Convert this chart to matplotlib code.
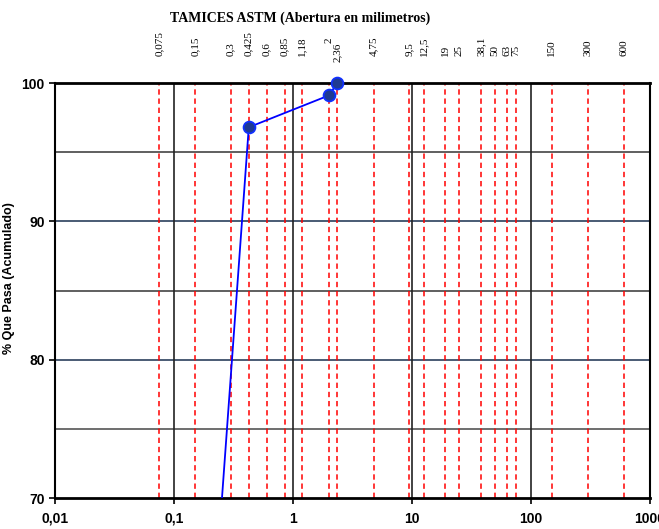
import matplotlib
matplotlib.use("Agg")
import matplotlib.pyplot as plt
import matplotlib.transforms as mtransforms
from matplotlib import font_manager

# Sieve openings (mm) and their printed labels
sieve_sizes = [0.075, 0.15, 0.3, 0.425, 0.6, 0.85, 1.18, 2, 2.36, 4.75, 9.5,
               12.5, 19, 25, 38.1, 50, 63, 75, 150, 300, 600]
sieve_labels = ["0,075", "0,15", "0,3", "0,425", "0,6", "0,85", "1,18", "2",
                "2,36", "4,75", "9,5", "12,5", "19", "25", "38,1", "50", "63",
                "75", "150", "300", "600"]

# Grading curve: opening (mm) vs cumulative percent passing
curve_size = [0.15, 0.425, 2, 2.36]
curve_pass = [43.0, 96.8, 99.1, 100.0]

x_ticks = [0.01, 0.1, 1, 10, 100, 1000]
x_tick_labels = ["0,01", "0,1", "1", "10", "100", "1000"]
y_ticks = [70, 80, 90, 100]

available = {f.name for f in font_manager.fontManager.ttflist}
sans = "Liberation Sans Narrow" if "Liberation Sans Narrow" in available else "Liberation Sans"

fig = plt.figure(figsize=(6.59, 5.29), dpi=100)
ax = fig.add_axes([0.0835, 0.0586, 0.9028, 0.7845])
ax.set_xscale("log")
ax.set_xlim(0.01, 1000)
ax.set_ylim(70, 100)

# Horizontal reference lines
for yv, col in [(75, "#555555"), (80, "#2b3f5c"), (85, "#444444"),
                (90, "#2b3f5c"), (95, "#444444")]:
    ax.axhline(yv, color=col, lw=1.2, zorder=1)

# Decade lines
for xv in [0.1, 1, 10, 100]:
    ax.axvline(xv, color="#222222", lw=1.2, zorder=1)

# Sieve lines
for s in sieve_sizes:
    ax.axvline(s, color="#ff0000", lw=1.1, ls=(0, (3.5, 2.5)), zorder=2)

# Grading curve: the line is clipped to the plot, the markers are not
ax.plot(curve_size, curve_pass, color="#0000ff", lw=1.3, zorder=4)
visible = [(s, p) for s, p in zip(curve_size, curve_pass) if p >= 70]
ax.plot([v[0] for v in visible], [v[1] for v in visible], ls="none",
        marker="o", ms=8.5, mfc="#1f3a93", mec="#1030ff", mew=1.3,
        zorder=5, clip_on=False)

# Sieve labels above the plot
trans = mtransforms.blended_transform_factory(ax.transData, ax.transAxes)
label_y = {"2": 1.097, "2,36": 1.05}
for s, lab in zip(sieve_sizes, sieve_labels):
    ax.text(s, label_y.get(lab, 1.065), lab, transform=trans, rotation=90,
            ha="center", va="bottom", fontsize=8, family="Liberation Serif")

fig.text(0.455, 0.966, "TAMICES ASTM (Abertura en milimetros)",
         ha="center", va="center", fontsize=10, fontweight="bold",
         family="Liberation Serif")

ax.set_xticks(x_ticks)
ax.set_xticklabels(x_tick_labels, fontsize=10, fontweight="bold", family=sans)
ax.xaxis.set_minor_locator(matplotlib.ticker.NullLocator())
ax.set_yticks(y_ticks)
ax.set_yticklabels([str(v) for v in y_ticks], fontsize=10, fontweight="bold",
                   family=sans)
ax.tick_params(axis="both", direction="out", length=4, width=1.2,
               colors="black")
ax.tick_params(axis="x", pad=6)

ax.set_ylabel("% Que Pasa (Acumulado)", fontsize=9, fontweight="bold",
              family="Liberation Sans")
ax.yaxis.set_label_coords(-0.067, 0.53)

for side in ["left", "bottom", "top", "right"]:
    ax.spines[side].set_color("black")
    ax.spines[side].set_linewidth(1.5)
ax.spines["bottom"].set_linewidth(2)
ax.spines["top"].set_linewidth(2)

fig.savefig("out.png", dpi=100)
